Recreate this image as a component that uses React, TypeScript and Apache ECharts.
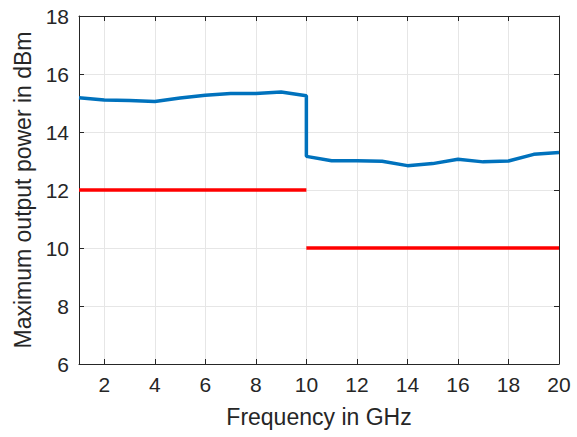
import React, { useEffect, useRef } from "react";
import * as echarts from "echarts";

const measuredFreq = [1, 2, 3, 4, 5, 6, 7, 8, 9, 10, 10, 11, 12, 13, 14, 15, 16, 17, 18, 19, 20];
const measuredPower = [15.18, 15.1, 15.09, 15.05, 15.17, 15.27, 15.33, 15.33, 15.38, 15.25, 13.16, 13.01, 13.01, 12.99, 12.84, 12.91, 13.06, 12.97, 13.0, 13.23, 13.29];
const specLowFreq = [1, 10];
const specLowPower = [12, 12];
const specHighFreq = [10, 20];
const specHighPower = [10, 10];
const xTicks = [2, 4, 6, 8, 10, 12, 14, 16, 18, 20];

const FONT = "Liberation Sans, Arial, Helvetica, sans-serif";
const AXIS = "#262626";
const GRID = "#e6e6e6";

export default function App() {
  const ref = useRef<HTMLDivElement>(null);
  useEffect(() => {
    if (!ref.current) return;
    const chart = echarts.init(ref.current, undefined, { renderer: "svg" });
    const zip = (a: number[], b: number[]) => a.map((v, i) => [v, b[i]]);
    const baseX = {
      type: "value" as const,
      min: 1,
      max: 20,
      axisLine: { show: true, onZero: false, lineStyle: { color: AXIS, width: 1 } },
      axisTick: { show: true, inside: true, length: 5, customValues: xTicks, lineStyle: { color: AXIS } },
      splitLine: { show: false },
    };
    const baseY = {
      type: "value" as const,
      min: 6,
      max: 18,
      interval: 2,
      axisLine: { show: true, onZero: false, lineStyle: { color: AXIS, width: 1 } },
      axisTick: { show: true, inside: true, length: 5, lineStyle: { color: AXIS } },
      splitLine: { show: false },
    };
    chart.setOption({
      animation: false,
      backgroundColor: "#ffffff",
      grid: { left: 79, top: 16, right: 18, bottom: 73, containLabel: false },
      xAxis: [
        {
          ...baseX,
          position: "bottom",
          name: "Frequency in GHz",
          nameLocation: "middle",
          nameGap: 41,
          nameTextStyle: { fontFamily: FONT, fontSize: 23, color: AXIS },
          axisLabel: { customValues: xTicks, fontFamily: FONT, fontSize: 21, color: AXIS, margin: 10 },
          splitLine: { show: true, lineStyle: { color: GRID, width: 1 } },
        },
        { ...baseX, position: "top", axisLabel: { show: false } },
      ],
      yAxis: [
        {
          ...baseY,
          position: "left",
          name: "Maximum output power in dBm",
          nameLocation: "middle",
          nameGap: 40,
          nameTextStyle: { fontFamily: FONT, fontSize: 23, color: AXIS },
          axisLabel: { fontFamily: FONT, fontSize: 21, color: AXIS, margin: 10 },
          splitLine: { show: true, lineStyle: { color: GRID, width: 1 } },
        },
        { ...baseY, position: "right", axisLabel: { show: false } },
      ],
      series: [
        {
          type: "line",
          data: zip(specLowFreq, specLowPower),
          symbol: "none",
          lineStyle: { color: "#ff0000", width: 3.5 },
          z: 3,
        },
        {
          type: "line",
          data: zip(specHighFreq, specHighPower),
          symbol: "none",
          lineStyle: { color: "#ff0000", width: 3.5 },
          z: 3,
        },
        {
          type: "line",
          data: zip(measuredFreq, measuredPower),
          symbol: "none",
          lineStyle: { color: "#0072bd", width: 3.5 },
          z: 4,
        },
      ],
    });
    return () => chart.dispose();
  }, []);
  return <div ref={ref} style={{ width: 577, height: 437, position: "absolute", left: 0, top: 0 }} />;
}
